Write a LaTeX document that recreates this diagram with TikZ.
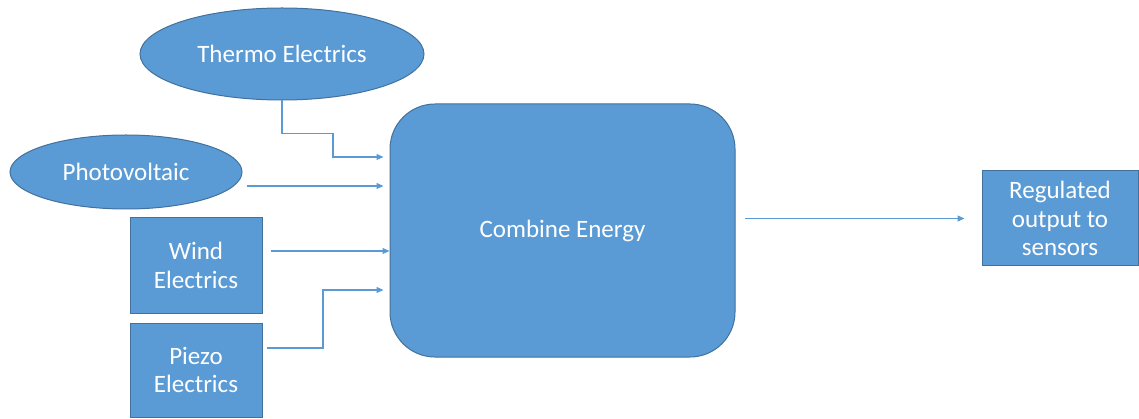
\documentclass[tikz,border=0pt]{standalone}
\usepackage{fontspec}
\setmainfont{Carlito}
\usetikzlibrary{shapes.geometric,arrows.meta}
\definecolor{boxfill}{HTML}{5B9BD5}
\definecolor{boxline}{HTML}{41719C}
\begin{document}
\begin{tikzpicture}[x=1pt,y=-1pt,
  shapebox/.style={fill=boxfill,draw=boxline,line width=1pt,text=white,font=\fontsize{25}{28.5}\selectfont,align=center,inner sep=0pt},
  ell/.style={shapebox,ellipse},
  rect/.style={shapebox,rectangle},
  conn/.style={draw=boxfill,line width=1.1pt,-{Triangle[length=7pt,width=6pt]}}]
\useasboundingbox (0,0) rectangle (1139,419);
\node[ell,minimum width=284pt,minimum height=92pt] (thermo) at (282,54) {Thermo Electrics};
\node[ell,minimum width=232pt,minimum height=74pt] (photo) at (126,172) {Photovoltaic};
\node[rect,minimum width=132pt,minimum height=95pt] (wind) at (196,265.5) {Wind\\Electrics};
\node[rect,minimum width=132pt,minimum height=94pt] (piezo) at (196,370) {Piezo\\Electrics};
\node[rect,rounded corners=45pt,minimum width=345pt,minimum height=253pt] (combine) at (562.5,230.5) {Combine Energy};
\node[rect,minimum width=156pt,minimum height=95pt] (reg) at (1060,218.5) {Regulated\\output to\\sensors};
\draw[conn,shorten >=6pt] (thermo.south) -- ++(0,33) -| (333,157) -- (combine.west |- 0,157);
\draw[conn,shorten <=4pt,shorten >=6pt] (photo.east |- 0,186) -- (combine.west |- 0,186);
\draw[conn,shorten <=8pt] (wind.east |- 0,251) -- (combine.west |- 0,251);
\draw[conn,shorten <=4pt,shorten >=6pt] (piezo.east |- 0,348) -| (323,290) -- (combine.west |- 0,290);
\draw[conn,shorten <=9pt,shorten >=17pt] (combine.east |- reg.west) -- (reg.west);
\end{tikzpicture}
\end{document}
